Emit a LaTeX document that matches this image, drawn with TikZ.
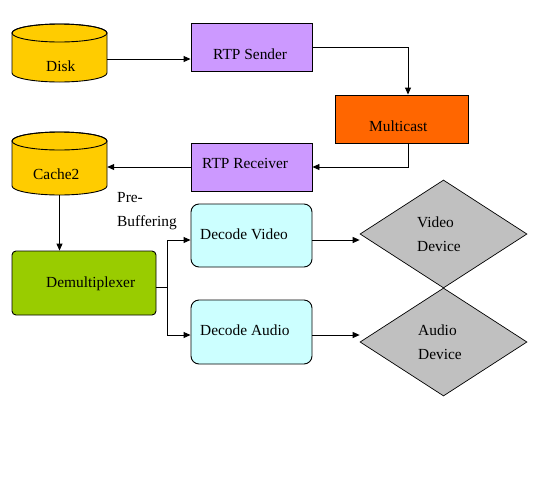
\documentclass[tikz,border=0pt]{standalone}
\usepackage{fontspec}
\setmainfont{Liberation Serif}
\usetikzlibrary{shapes.geometric,arrows.meta,calc}
\definecolor{diskc}{HTML}{FFCC00}
\definecolor{purp}{HTML}{CC99FF}
\definecolor{orng}{HTML}{FF6600}
\definecolor{cyanc}{HTML}{CCFFFF}
\definecolor{greenc}{HTML}{99CC00}
\definecolor{grayc}{HTML}{C0C0C0}
\begin{document}
\begin{tikzpicture}[x=1pt,y=-1pt,
  lbl/.style={inner sep=0pt, font=\fontsize{15.4}{24}\selectfont, align=left},
  arr/.style={-{Triangle[length=7pt,width=6pt]}, line width=0.9pt},
  box/.style={draw, line width=0.9pt, inner sep=0pt},
  holder/.style={inner sep=0pt},
  cyl/.style={fill=diskc, draw, line width=0.9pt},
]
\useasboundingbox (0,0) rectangle (552,480);

% cylinders
\filldraw[cyl] (12,33) -- (12,73) arc[start angle=180,end angle=0,x radius=47.5,y radius=9]
  -- (107,33) arc[start angle=360,end angle=180,x radius=47.5,y radius=9] -- cycle;
\draw[line width=0.9pt] (59.5,33) ellipse[x radius=47.5,y radius=9];
\node[holder, minimum width=95pt, minimum height=58pt] (disk) at (59.5,53) {};

\filldraw[cyl] (12,141) -- (12,186) arc[start angle=180,end angle=0,x radius=47.5,y radius=9]
  -- (107,141) arc[start angle=360,end angle=180,x radius=47.5,y radius=9] -- cycle;
\draw[line width=0.9pt] (59.5,141) ellipse[x radius=47.5,y radius=9];
\node[holder, minimum width=95pt, minimum height=63pt] (cache2) at (59.5,163.5) {};

% boxes
\node[box, fill=purp, minimum width=121pt, minimum height=48pt] (sender) at (251.5,47) {};
\node[box, fill=orng, minimum width=133pt, minimum height=48pt] (multicast) at (401.5,119) {};
\node[box, fill=purp, minimum width=121pt, minimum height=48pt] (receiver) at (251.5,167) {};
\node[box, fill=greenc, rounded corners=4pt, minimum width=144pt, minimum height=64pt] (demux) at (84,283) {};
\node[box, fill=cyanc, rounded corners=8pt, minimum width=121pt, minimum height=63pt] (dv) at (251.5,235.5) {};
\node[box, fill=cyanc, rounded corners=8pt, minimum width=121pt, minimum height=64pt] (da) at (251.5,332) {};
\node[diamond, draw, line width=0.7pt, fill=grayc, inner sep=0pt, minimum width=167pt, minimum height=108pt] (vd) at (443.5,234) {};
\node[diamond, draw, line width=0.7pt, fill=grayc, inner sep=0pt, minimum width=167pt, minimum height=108pt] (ad) at (443.5,342) {};

% texts
\node[lbl, anchor=base west] (tdisk) at (46,71) {Disk};
\node[lbl, anchor=base west] (tsender) at (213,59) {RTP Sender};
\node[lbl, anchor=base west] (tmulti) at (369,131) {Multicast};
\node[lbl, anchor=base west] (trecv) at (202,168) {RTP Receiver};
\node[lbl, anchor=base west] (tcache) at (33,179) {Cache2};
\node[lbl, anchor=base west] (tdemux) at (46,287) {Demultiplexer};
\node[lbl, anchor=base west] (tdv) at (200,239) {Decode Video};
\node[lbl, anchor=base west] (tda) at (200,335) {Decode Audio};
\node[lbl, anchor=north west] (tpre) at (117,192.5) {Pre-\\Buffering};
\node[lbl, anchor=north west] (tvd) at (417,216.5) {Video\\Device};
\node[lbl, anchor=north west] (tad) at (418,324.5) {Audio\\Device};

% connectors
\draw[arr] ([yshift=-6pt]disk.east) -- ([yshift=-6pt]disk.east -| sender.west);
\draw[arr] (sender.east) -| ([xshift=6.5pt]multicast.north);
\draw[arr] ([xshift=6.5pt]multicast.south) |- (receiver.east);
\draw[arr] (receiver.west) -- (receiver.west -| cache2.east);
\draw[arr] (cache2.south) -- (cache2.south |- demux.north);
\coordinate (split) at ([xshift=11pt,yshift=-4pt]demux.east);
\draw[line width=0.9pt] ([yshift=-4pt]demux.east) -- (split);
\draw[arr] (split) |- ([yshift=-4.5pt]dv.west);
\draw[arr] (split) |- ([yshift=-3pt]da.west);
\draw[arr] ([yshift=-4.5pt]dv.east) -- ([yshift=-4.5pt]dv.east -| vd.west);
\draw[arr] ([yshift=-3pt]da.east) -- ([yshift=-3pt]da.east -| ad.west);
\end{tikzpicture}
\end{document}
